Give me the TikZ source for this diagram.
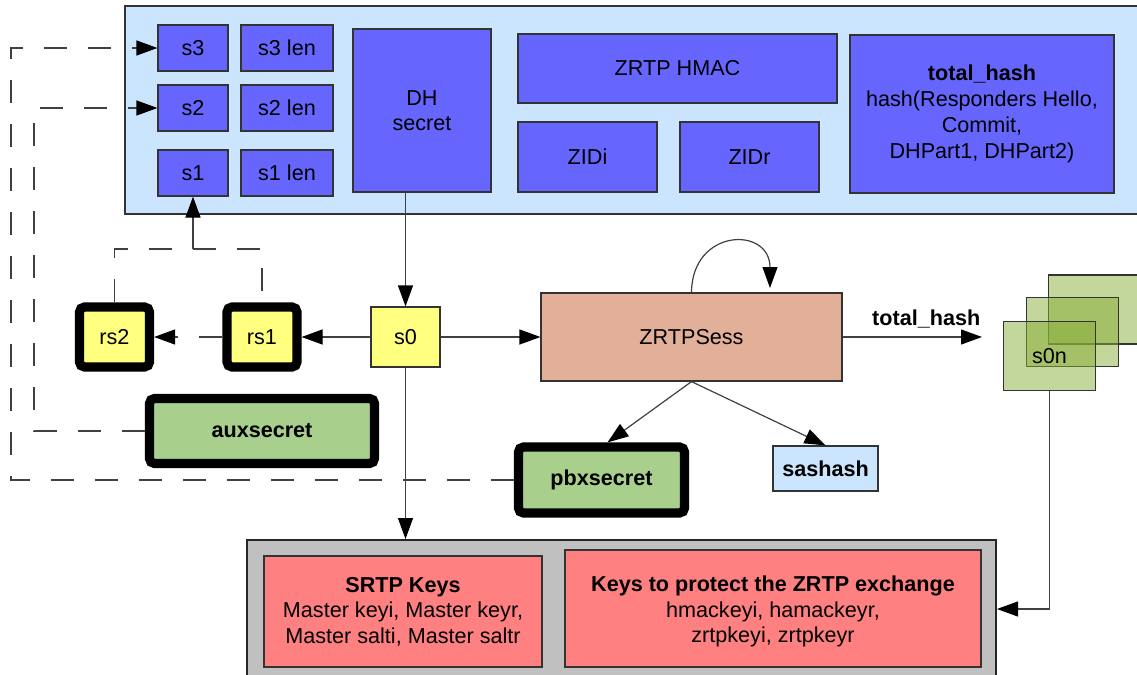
\documentclass[tikz,border=0pt]{standalone}
\usepackage{fontspec}
\setmainfont{Liberation Sans}
\usetikzlibrary{arrows.meta,calc}

\definecolor{storebg}{HTML}{CCE5FF}
\definecolor{field}{HTML}{6666FF}
\definecolor{seed}{HTML}{FFFF80}
\definecolor{session}{HTML}{E2AF98}
\definecolor{secretgreen}{HTML}{A9CF8C}
\definecolor{keyred}{HTML}{FF8080}
\definecolor{panelgray}{HTML}{C0C0C0}
\definecolor{stackgreen}{HTML}{87AD37}
\definecolor{edge}{HTML}{333333}
\definecolor{wirecol}{HTML}{404040}

\tikzset{
  lbl/.style={font=\fontsize{10.8}{12.8}\selectfont, text=black, align=center, inner sep=0pt},
  box/.style={lbl, draw=edge, line width=0.6pt},
  fieldbox/.style={box, fill=field},
  seedbox/.style={box, fill=seed},
  heavybox/.style={lbl, draw=black, line width=4.6pt, rounded corners=2.5pt},
  keybox/.style={box, fill=keyred},
  stackbox/.style={box, draw=black!80, fill=stackgreen, fill opacity=0.5, text opacity=1,
    minimum width=46pt, minimum height=34.5pt},
  conn/.style={draw=wirecol, line width=0.6pt,
    -{Triangle[length=10.5pt,width=7.5pt,color=black]}},
  plain/.style={draw=wirecol, line width=0.6pt},
  longdash/.style={dash pattern=on 11.5pt off 10.5pt},
  boldtext/.style={font=\fontsize{10.8}{12.8}\selectfont\bfseries},
}

\begin{document}
\begin{tikzpicture}[x=0.5pt, y=-0.5pt]
\useasboundingbox (0,0) rectangle (1137,675);
\clip (0,0) rectangle (1137,675);

% shared secret store
\node[box, fill=storebg, minimum width=510pt, minimum height=104pt] (store) at (635,110) {};
\node[fieldbox, minimum width=35pt, minimum height=23pt] (s3) at (193,48) {s3};
\node[fieldbox, minimum width=46pt, minimum height=23pt] (s3len) at (287,48) {s3 len};
\node[fieldbox, minimum width=35pt, minimum height=23pt] (s2) at (193,108) {s2};
\node[fieldbox, minimum width=46pt, minimum height=23pt] (s2len) at (287,108) {s2 len};
\node[fieldbox, minimum width=35pt, minimum height=23pt] (s1) at (193,173) {s1};
\node[fieldbox, minimum width=46pt, minimum height=23pt] (s1len) at (287,173) {s1 len};
\node[fieldbox, minimum width=69pt, minimum height=81.5pt] (dh) at (422,110.5) {DH\\secret};
\node[fieldbox, minimum width=159.5pt, minimum height=34.5pt] (hmac) at (677.5,68.5) {ZRTP HMAC};
\node[fieldbox, minimum width=69.5pt, minimum height=35pt] (zidi) at (587.5,157) {ZIDi};
\node[fieldbox, minimum width=69.5pt, minimum height=35pt] (zidr) at (749.5,157) {ZIDr};
\node[fieldbox, minimum width=132pt, minimum height=79pt,
      font=\fontsize{10.8}{13.1}\selectfont] (thash) at (982,114)
  {\textbf{total\_hash}\\hash(Responders Hello,\\Commit,\\DHPart1, DHPart2)};

% derived secrets
\node[seedbox, minimum width=34.5pt, minimum height=30pt] (s0) at (405.5,337) {s0};
\node[heavybox, fill=seed, minimum width=35pt, minimum height=30pt] (rs1) at (262,337) {rs1};
\node[heavybox, fill=seed, minimum width=35pt, minimum height=30pt] (rs2) at (114.5,337) {rs2};
\node[heavybox, boldtext, fill=secretgreen, minimum width=112.5pt, minimum height=32.5pt] (aux) at (262,431) {auxsecret};
\node[heavybox, boldtext, fill=secretgreen, minimum width=83pt, minimum height=33pt] (pbx) at (601.5,480) {pbxsecret};
\node[box, fill=session, minimum width=150.5pt, minimum height=44pt] (zs) at (691.5,337) {ZRTPSess};
\node[box, boldtext, fill=storebg, minimum width=52.5pt, minimum height=22.5pt] (sas) at (825.5,468.5) {sashash};

% stack of later s0 values
\node[stackbox] (back) at (1094.5,309.5) {};
\node[stackbox] (mid) at (1072.5,332) {};
\node[stackbox] (front) at (1049.5,356) {s0n};

% key panel
\node[box, draw=black!85, line width=1pt, fill=panelgray, minimum width=374.5pt, minimum height=69pt] (panel) at (621.5,609) {};
\node[keybox, minimum width=139pt, minimum height=55.5pt] (srtp) at (403,611.5)
  {\textbf{SRTP Keys}\\Master keyi, Master keyr,\\Master salti, Master saltr};
\node[keybox, minimum width=208pt, minimum height=58.5pt] (zkeys) at (773,608.5) {};
\node[lbl] (zkeystext) at (773,611.5)
  {\textbf{Keys to protect the ZRTP exchange}\\hmackeyi, hamackeyr,\\zrtpkeyi, zrtpkeyr};

% connectors
\draw[conn] (dh.south -| s0.north) -- (s0.north);
\draw[conn] (s0.west) -- (rs1.east);
\draw[conn, longdash] (rs1.west) -- (rs2.east);
\coordinate (fork) at (193,249);
\draw[plain, longdash] (rs2.north) |- (fork) -| (rs1.north);
\draw[conn] (fork) -- (s1.south);
\draw[conn] (s0.east) -- (zs.west);
\draw[conn] (s0.south) -- (s0.south |- panel.north);
\coordinate (loopend) at (770,288);
\draw[conn] (zs.north) .. controls (692,228) and (770,226) .. (loopend);
\coordinate (hashend) at (982,337);
\draw[conn] (zs.east) -- node[lbl, boldtext, pos=0.6, above=4pt] {total\_hash} (hashend);
\draw[conn] (zs.south) -- ([xshift=3pt]pbx.north);
\draw[conn] (zs.south) -- (sas.north);
\coordinate (outerx) at (11,0);
\coordinate (innerx) at (34,0);
\draw[conn, longdash] (pbx.west) -| (outerx |- s3.west) -- (s3.west);
\draw[conn, longdash] (aux.west) -| (innerx |- s2.west) -- (s2.west);
\draw[conn] (front.south) |- (panel.east);
\end{tikzpicture}
\end{document}
